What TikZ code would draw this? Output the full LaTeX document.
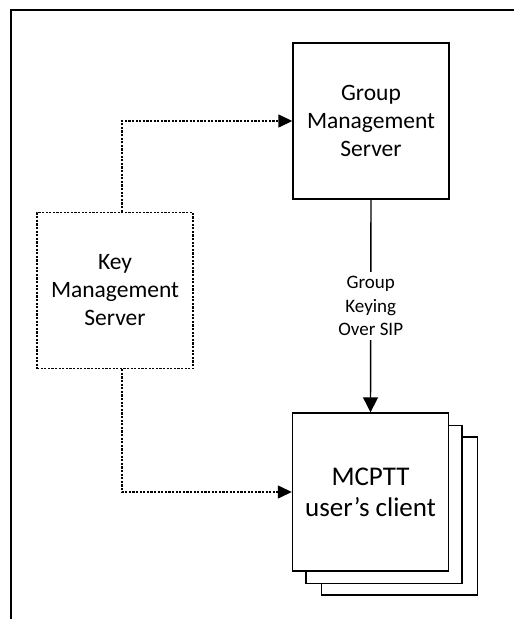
\documentclass[tikz,border=0pt]{standalone}
\usepackage{fontspec}
\setmainfont{Carlito}
\usetikzlibrary{arrows.meta,positioning}

\tikzset{
  box/.style={draw,line width=1.4pt,fill=white,minimum width=156pt,minimum height=156pt,
    align=center,font=\fontsize{23.5}{28}\selectfont},
  keybox/.style={box,line width=1.4pt,dash pattern=on 2.2pt off 1.4pt},
  keyline/.style={line width=1.4pt,dash pattern=on 2.2pt off 1.4pt,-{Triangle[length=14pt,width=13pt]}},
  sipline/.style={line width=1.4pt,-{Triangle[length=15pt,width=15pt]}}
}

\begin{document}
\begin{tikzpicture}[x=1pt,y=-1pt]
\useasboundingbox (0,0) rectangle (514,619);
% frame
\draw[line width=1.4pt] (11,619) -- (11,10) -- (514,10);

\node[box] (gms) at (371,121) {Group\\Management\\Server};
\node[keybox] (kms) at (115,290.5) {Key\\Management\\Server};

% client stack
\node[box,minimum height=158pt] (client3) at (399.5,516) {};
\node[box,minimum height=158pt] (client2) at (384,504.5) {};
\node[box,minimum height=158pt,font=\fontsize{27}{31}\selectfont] (client) at (370.5,492) {MCPTT\\user’s client};

\draw[keyline] ([xshift=7pt]kms.north) |- (gms.west);
\draw[keyline] ([xshift=7pt]kms.south) |- (client.west);
\draw[sipline] (gms.south) -- node[fill=white,align=center,inner sep=4pt,
  font=\fontsize{19}{23.5}\selectfont] (sip) {Group\\Keying\\Over SIP} (client.north);
\end{tikzpicture}
\end{document}
